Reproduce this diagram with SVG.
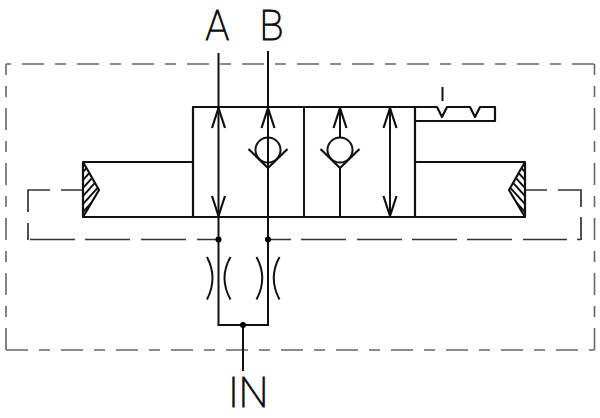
<svg xmlns="http://www.w3.org/2000/svg" width="600" height="418" viewBox="0 0 600 418">
<style>
.l{fill:none;stroke:#111;stroke-width:2;stroke-linecap:butt}
.b{fill:none;stroke:#111;stroke-width:2.2;stroke-linejoin:round}
.d{fill:none;stroke:#666;stroke-width:1.6;stroke-dasharray:22 11 11 11}
.i{fill:none;stroke:#333;stroke-width:1.7}
.h{fill:none;stroke:#111;stroke-width:1.9}
.t{font-family:"Roboto","Liberation Sans",sans-serif;font-weight:100;font-size:43px;fill:#111;stroke:#111;stroke-width:1.1}
.dot{fill:#000}
</style>
<defs>
<clipPath id="cl"><path d="M83 162L99 190L83 217Z"/></clipPath>
<clipPath id="cr"><path d="M525 162L509 190L525 217Z"/></clipPath>
<g id="ah"><path class="b" d="M-6.500 21L0 1L6.500 21"/></g>
<g id="ad"><path class="b" d="M-6.500 -21L0 -1L6.500 -21"/></g>
<g id="chk"><circle class="l" cx="0" cy="0" r="12.500"/><path class="b" d="M-19.500 -1L0 18L19.500 -1"/></g>
</defs>
<g id="boundary">
<path class="d" style="stroke-dashoffset:39" d="M6 64H594.500"/>
<path class="d" d="M6 350H594.500"/>
<path class="d" style="stroke-dashoffset:11" d="M6 64V350"/>
<path class="d" style="stroke-dashoffset:11" d="M594.500 64V350"/>
</g>
<g id="pilot">
<path class="i" d="M30 239.500H75M85 239.500H130M141 239.500H186M197 239.500H218M268 239.500H291M301 239.500H346M357 239.500H402M412 239.500H457M467 239.500H512M523 239.500H567M577 239.500H581"/>
<path class="i" d="M83 190H61M50 190H28V212M28 223V240"/>
<path class="i" d="M525 190H547M558 190H581V207M581 217V240"/>
</g>
<g id="valve-body"><path class="b" d="M193 107H415V217H193Z"/><path class="l" d="M304 107V217"/></g>
<g id="actuator-left">
<path class="b" d="M193 162H83V217H193"/>
<path class="b" d="M83 162L99 190L83 217"/>
<g clip-path="url(#cl)"><path class="h" d="M83 172L103 150M83 180L103 158M83 188L103 166M83 196L103 174M83 204L103 182M83 212L103 190M83 220L103 198"/></g>
</g>
<g id="actuator-right">
<path class="b" d="M415 162H525V217H415"/>
<path class="b" d="M525 162L509 190L525 217"/>
<g clip-path="url(#cr)"><path class="h" d="M525 172L505 150M525 180L505 158M525 188L505 166M525 196L505 174M525 204L505 182M525 212L505 190M525 220L505 198"/></g>
</g>
<g id="detent">
<path class="b" d="M415 107H437L442 117L447 107H470L475 117L480 107H495V121H415"/>
<path class="l" d="M442.500 87V101"/>
</g>
<g id="connectors">
<path class="l" d="M218.500 53V325H268V51M243 325V371"/>
<path class="l" d="M340 107V138M340 168V217M390 107V217"/>
<path class="l" d="M207 257Q218 278 207 299.500M230.500 257Q218.500 278 230.500 299.500M256.500 257Q268 278 256.500 299.500M279.500 257Q268 278 279.500 299.500"/>
</g>
<g id="arrow-a"><use href="#ah" x="218.500" y="107"/><use href="#ad" x="218.500" y="217"/></g>
<g id="check-b"><use href="#ah" x="268" y="107"/><use href="#chk" x="268" y="150"/></g>
<g id="check-2"><use href="#ah" x="340" y="107"/><use href="#chk" x="340" y="150"/></g>
<g id="arrow-4"><use href="#ah" x="390" y="107"/><use href="#ad" x="390" y="217"/></g>
<g id="junctions"><circle class="dot" cx="218.500" cy="239.500" r="3"/><circle class="dot" cx="268" cy="239.500" r="3"/><circle class="dot" cx="243" cy="325" r="3"/></g>
<g id="label-a"><text class="t" transform="translate(205.500 40) scale(.92 1)">A</text></g>
<g id="label-b"><text class="t" transform="translate(259.500 40) scale(.92 1)">B</text></g>
<g id="label-in"><text class="t" transform="translate(228 407) scale(.97 1)">IN</text></g>
</svg>
